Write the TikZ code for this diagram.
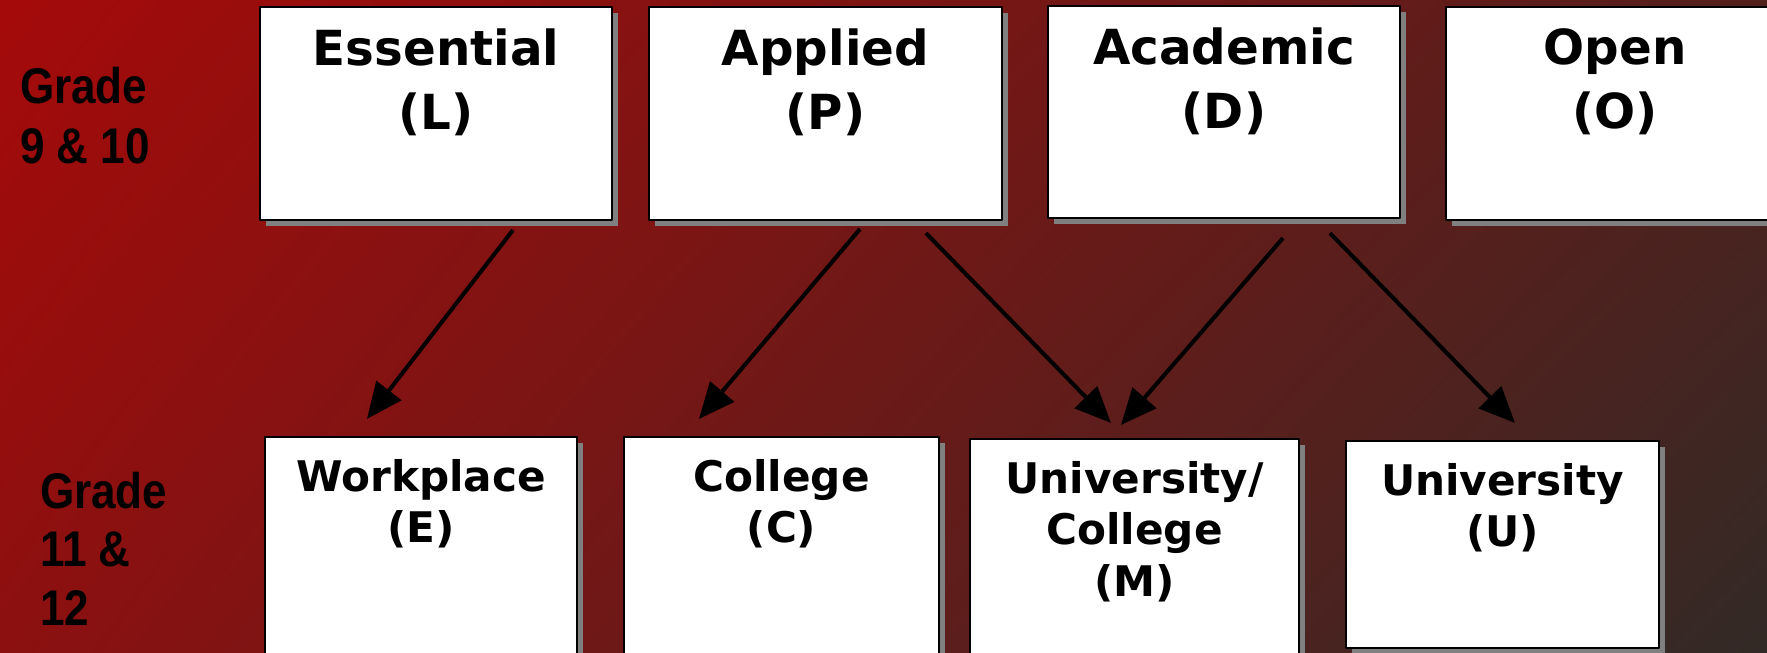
\documentclass[tikz,border=0pt]{standalone}
\usepackage{fontspec}
\newfontfamily\boxfont{DejaVu Sans}
\newfontfamily\gradefont{Liberation Sans}[FakeStretch=0.88]
\usetikzlibrary{arrows.meta,shadows,shadings,positioning}
\definecolor{bgtl}{RGB}{165,10,10}
\definecolor{bgtr}{RGB}{82,32,29}
\definecolor{bgbl}{RGB}{140,16,16}
\definecolor{bgbr}{RGB}{50,42,38}
\begin{document}
\begin{tikzpicture}[line width=1.2pt,line join=round,
  box/.style={draw=black, fill=white, inner sep=0pt,
    drop shadow={shadow xshift=0.12cm, shadow yshift=-0.12cm, fill=black!50, opacity=1}},
  toptext/.style={inner sep=0pt, align=center, font=\boxfont\bfseries\fontsize{27.5}{36.5}\selectfont},
  lowtext/.style={inner sep=0pt, align=center, font=\boxfont\bfseries\fontsize{24}{29.5}\selectfont},
  grade/.style={inner sep=0pt, anchor=north west, align=left, font=\gradefont\bfseries\fontsize{28.5}{34.5}\selectfont},
  flow/.style={black, line width=2.3pt, -{Triangle[length=0.72cm,width=0.62cm]}}]
\useasboundingbox (0,0) rectangle (35.34,-13.04);
\shade[upper left=bgtl, upper right=bgtr, lower left=bgbl, lower right=bgbr] (0,0) rectangle (35.34,-13.04);
%\draw[step=1cm,gray,very thin] (0,-13) grid (35,0);

% grade 9 & 10
\node[grade] (g9) at (0.38,-1.32) {Grade\\9 \& 10};
\node[box, minimum width=7.04cm, minimum height=4.26cm] (ess) at (8.72,-2.27) {};
\node[box, minimum width=7.06cm, minimum height=4.26cm] (app) at (16.51,-2.27) {};
\node[box, minimum width=7.04cm, minimum height=4.24cm] (aca) at (24.48,-2.24) {};
\node[box, minimum width=6.76cm, minimum height=4.26cm] (open) at (32.30,-2.27) {};
\node[toptext, below=0.43cm of ess.north] (esst) {Essential\\(L)};
\node[toptext, below=0.43cm of app.north] (appt) {Applied\\(P)};
\node[toptext, below=0.43cm of aca.north] (acat) {Academic\\(D)};
\node[toptext, below=0.43cm of open.north] (opent) {Open\\(O)};

% grade 11 & 12
\node[grade, font=\gradefont\bfseries\fontsize{28.5}{33.3}\selectfont] (g11) at (0.78,-9.42) {Grade\\11 \&\\12};
\node[box, minimum width=6.24cm, minimum height=4.46cm] (work) at (8.42,-10.97) {};
\node[box, minimum width=6.30cm, minimum height=4.46cm] (coll) at (15.63,-10.97) {};
\node[box, minimum width=6.58cm, minimum height=4.42cm] (uc) at (22.69,-10.99) {};
\node[box, minimum width=6.26cm, minimum height=4.14cm] (univ) at (30.05,-10.89) {};
\node[lowtext, below=0.44cm of work.north] (workt) {Workplace\\(E)};
\node[lowtext, below=0.44cm of coll.north] (collt) {College\\(C)};
\node[lowtext, below=0.44cm of uc.north] (uct) {University/\\College\\(M)};
\node[lowtext, below=0.44cm of univ.north] (univt) {University\\(U)};

\draw[flow] ([xshift=5.08cm,yshift=-0.18cm]ess.south west) -- ([xshift=2.06cm,yshift=0.34cm]work.north west);
\draw[flow] ([xshift=4.24cm,yshift=-0.16cm]app.south west) -- ([xshift=1.52cm,yshift=0.34cm]coll.north west);
\draw[flow] ([xshift=5.56cm,yshift=-0.24cm]app.south west) -- ([xshift=2.84cm,yshift=0.30cm]uc.north west);
\draw[flow] ([xshift=4.72cm,yshift=-0.38cm]aca.south west) -- ([xshift=3.04cm,yshift=0.26cm]uc.north west);
\draw[flow] ([xshift=5.66cm,yshift=-0.28cm]aca.south west) -- ([xshift=3.40cm,yshift=0.34cm]univ.north west);
\end{tikzpicture}
\end{document}
